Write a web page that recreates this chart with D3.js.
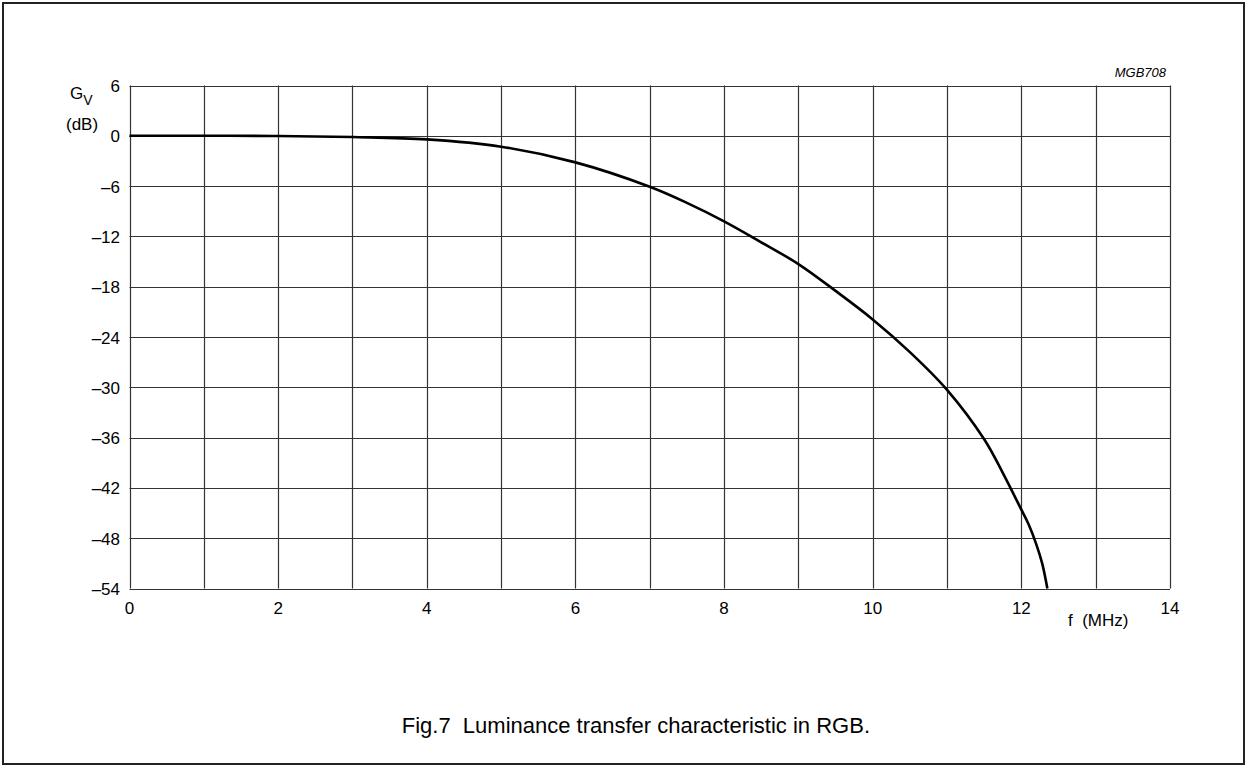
<!DOCTYPE html>
<html>
<head>
<meta charset="utf-8">
<script src="https://cdn.jsdelivr.net/npm/d3@7/dist/d3.min.js"></script>
<style>
	html, body { margin: 0; padding: 0; background: #fff; }
	svg { display: block; font-family: "Liberation Sans", Arial, sans-serif; }
</style>
</head>
<body>
<svg id="chart" width="1246" height="766"></svg>
<script>

// Data
// ==============================================

var freqMHz = [0, 1, 2, 3, 4, 5, 6, 7, 7.5, 8, 8.5, 9, 9.5, 10, 10.5, 11, 11.5, 11.75, 12, 12.1, 12.2, 12.28, 12.35];
var gainDb  = [0, 0, -0.02, -0.15, -0.43, -1.3, -3.17, -6.08, -8.0, -10.2, -12.7, -15.3, -18.5, -21.9, -25.8, -30.3, -36.2, -40.2, -44.6, -46.4, -48.7, -51.0, -54];

var xTicks = [0, 2, 4, 6, 8, 10, 12, 14];
var xGrid  = d3.range(0, 15, 1);
var yTicks = [6, 0, -6, -12, -18, -24, -30, -36, -42, -48, -54];

var svg = d3.select("#chart");

var plot = { left: 129.5, top: 85.5, right: 1170, bottom: 588.5 };

var xScale = d3.scaleLinear().domain([0, 14]).range([plot.left, plot.right]);
var yScale = d3.scaleLinear().domain([-54, 6]).range([plot.bottom, plot.top]);

function fmt(v){ return v < 0 ? "\u2013" + Math.abs(v) : String(v); }

// Outer frame
// ==============================================

svg.append("rect")
	.attr("x", 3).attr("y", 3)
	.attr("width", 1241).attr("height", 761)
	.attr("fill", "none")
	.attr("stroke", "#222")
	.attr("stroke-width", 2);

// Grid
// ==============================================

var grid = svg.append("g").attr("class", "grid");

grid.selectAll("line.v")
	.data(xGrid)
	.enter().append("line")
		.attr("class", "v")
		.attr("x1", function(d){ return Math.round(xScale(d)) + 0.5; })
		.attr("x2", function(d){ return Math.round(xScale(d)) + 0.5; })
		.attr("y1", plot.top)
		.attr("y2", plot.bottom)
		.attr("stroke", "#333")
		.attr("stroke-width", 1.2);

grid.selectAll("line.h")
	.data(yTicks)
	.enter().append("line")
		.attr("class", "h")
		.attr("y1", function(d){ return Math.round(yScale(d)) + 0.5; })
		.attr("y2", function(d){ return Math.round(yScale(d)) + 0.5; })
		.attr("x1", plot.left)
		.attr("x2", plot.right)
		.attr("stroke", "#333")
		.attr("stroke-width", 1.2);

// Axes labels
// ==============================================

svg.selectAll("text.ytick")
	.data(yTicks)
	.enter().append("text")
		.attr("class", "ytick")
		.attr("x", 120)
		.attr("y", function(d){ return yScale(d) + 6.5; })
		.attr("text-anchor", "end")
		.attr("font-size", 17)
		.attr("fill", "#000")
		.text(fmt);

svg.selectAll("text.xtick")
	.data(xTicks)
	.enter().append("text")
		.attr("class", "xtick")
		.attr("x", function(d){ return xScale(d); })
		.attr("y", 613.5)
		.attr("text-anchor", "middle")
		.attr("font-size", 17)
		.attr("fill", "#000")
		.text(fmt);

var gLabel = svg.append("text")
	.attr("x", 70).attr("y", 98.5)
	.attr("font-size", 17);
gLabel.append("tspan").text("G");
gLabel.append("tspan").attr("dy", 6.5).attr("font-size", 14).text("V");

svg.append("text")
	.attr("x", 66).attr("y", 129.5)
	.attr("font-size", 17)
	.text("(dB)");

svg.append("text")
	.attr("x", 1068).attr("y", 626)
	.attr("font-size", 17)
	.attr("xml:space", "preserve")
	.text("f  (MHz)");

svg.append("text")
	.attr("x", 1166).attr("y", 76.7)
	.attr("text-anchor", "end")
	.attr("font-size", 13)
	.attr("font-style", "italic")
	.text("MGB708");

svg.append("text")
	.attr("x", 870).attr("y", 733)
	.attr("text-anchor", "end")
	.attr("font-size", 22)
	.attr("xml:space", "preserve")
	.text("Fig.7  Luminance transfer characteristic in RGB.");

// Curve
// ==============================================

var points = freqMHz.map(function(f, i){ return { f: f, g: gainDb[i] }; });

var line = d3.line()
	.x(function(d){ return xScale(d.f); })
	.y(function(d){ return yScale(d.g); })
	.curve(d3.curveCatmullRom.alpha(0.5));

svg.append("path")
	.datum(points)
	.attr("d", line)
	.attr("fill", "none")
	.attr("stroke", "#000")
	.attr("stroke-width", 2.6);

</script>
</body>
</html>
